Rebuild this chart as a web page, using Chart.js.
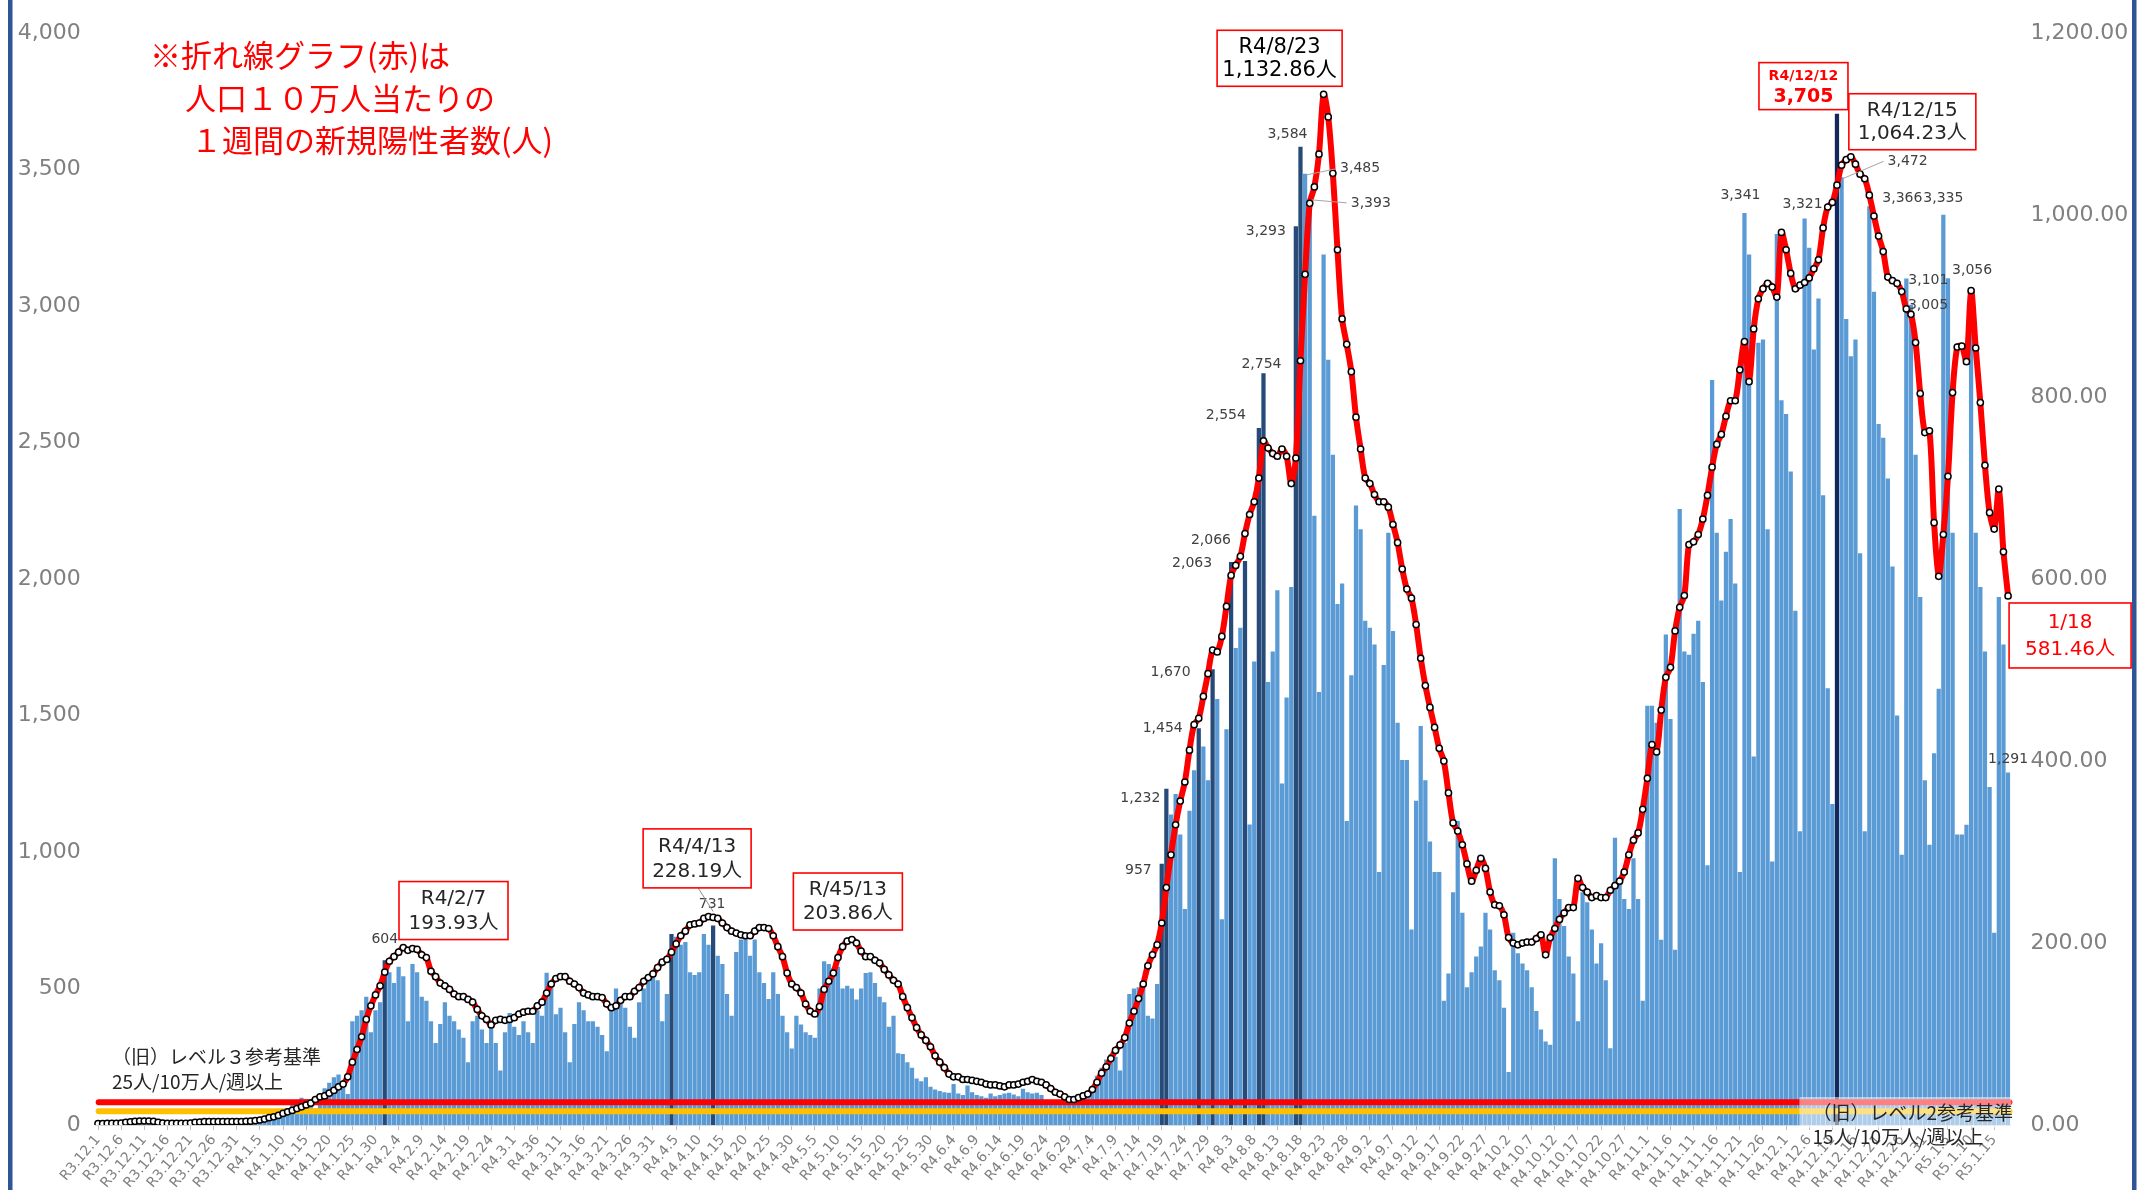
<!DOCTYPE html>
<html lang="ja">
<head>
<meta charset="utf-8">
<title>新規陽性者数の推移</title>
<script src="https://cdn.jsdelivr.net/npm/chart.js@4.4.1/dist/chart.umd.min.js"></script>
<style>
  html, body { margin: 0; padding: 0; background: #fff; }
  #wrap { width: 2138px; height: 1190px; }
</style>
</head>
<body>
<div id="wrap"><canvas id="casesChart" width="2138" height="1190"></canvas></div>
<script>
// 日別の新規陽性者数 (R3.12.1 〜 R5.1.18)
const dailyCases = [
    3, 5, 2, 4, 6, 3, 1, 8, 10, 6, 9, 7, 5, 2, 3, 4, 2, 5, 3, 2, 1, 4, 6, 5, 8, 7, 9, 3, 6, 8, 10,
    12, 8, 15, 18, 25, 30, 42, 55, 48, 40,
    60, 78, 90, 100, 95, 80, 60,
    110, 135, 155, 175, 185, 160, 114,
    380, 400, 420, 470, 340, 420, 450,
    604, 560, 520, 580, 545, 380, 590,
    560, 470, 455, 380, 300, 370, 450,
    400, 380, 350, 320, 230, 380, 400,
    350, 300, 360, 300, 200, 340, 410,
    360, 330, 380, 340, 300, 420, 400,
    558, 515, 406, 430, 340, 230, 370,
    450, 420, 380, 380, 360, 330, 270,
    420, 500, 460, 430, 360, 320, 450,
    500, 530, 550, 530, 380, 480, 700,
    690, 660, 670, 560, 550, 560, 700,
    660, 731, 620, 590, 480, 400, 634,
    680, 690, 620, 680, 560, 520, 462,
    560, 480, 400, 340, 280, 400, 368,
    340, 330, 320, 500, 600, 590, 576,
    580, 500, 510, 500, 460, 500, 557,
    560, 520, 470, 450, 360, 400, 263,
    260, 230, 210, 170, 160, 175, 140,
    130, 125, 120, 118, 150, 115, 110,
    145, 120, 110, 105, 100, 115, 105,
    110, 115, 118, 112, 105, 133, 120,
    115, 118, 110, 90, 85, 80, 88,
    85, 80, 90, 95, 120, 105, 140,
    180, 210, 240, 260, 250, 200, 300,
    480, 500, 505, 530, 400, 390, 517,
    957, 1232, 1138, 1213, 1064, 791, 1151,
    1300, 1454, 1387, 1263, 1670, 1561, 754,
    1450, 2063, 1748, 1822, 2066, 1101, 1698,
    2554, 2754, 1623, 1735, 1959, 1251, 1566,
    1971, 3293, 3584, 3485, 3393, 2232, 1586,
    3189, 2804, 2456, 1909, 1984, 1114, 1648,
    2270, 2183, 1847, 1822, 1760, 927, 1685,
    2170, 1810, 1474, 1337, 1337, 716, 1188,
    1462, 1263, 1039, 927, 927, 455, 555,
    853, 1114, 778, 505, 560, 617, 654,
    778, 716, 567, 530, 430, 194, 704,
    629, 592, 567, 505, 418, 350, 306,
    294, 977, 828, 729, 617, 555, 380,
    853, 816, 716, 592, 666, 530, 281,
    1052, 902, 828, 791, 977, 828, 455,
    1536, 1536, 1474, 679, 1797, 1487, 642,
    2257, 1735, 1723, 1800, 1847, 1623, 952,
    2729, 2170, 1922, 2100, 2220, 1984, 927,
    3341, 3189, 1350, 2866, 2878, 2183, 965,
    3264, 2655, 2605, 2394, 1884, 1076, 3321,
    3214, 2841, 3028, 2307, 1600, 1176, 3705,
    3472, 2953, 2816, 2878, 2095, 1076, 3366,
    3053, 2568, 2518, 2369, 2046, 1500, 990,
    3101, 3005, 2456, 1934, 1263, 1027, 1362,
    1598, 3335, 3102, 2170, 1064, 1064, 1100,
    3056, 2170, 1971, 1735, 1238, 704, 1934,
    1760, 1291
];

// 人口10万人当たり1週間の新規陽性者数 (右軸)
const weeklyPer100k = [
    1.5, 1.5, 1.8, 1.8, 1.8, 2.0,
    3.0, 3.5, 4.0, 4.4, 4.4, 4.4, 4.0,
    3.0, 2.2, 1.8, 1.8, 1.8, 1.8, 1.8, 2.2,
    3.0, 3.3, 3.6, 3.6, 3.6, 3.6, 3.6, 3.6, 3.6, 3.6, 3.8, 4.0, 4.2, 4.8, 5.5,
    6.5, 8, 9, 10.5, 12.7, 14.5, 16, 18, 20, 22, 24, 28, 31, 32, 35, 38, 42, 45, 53,
    69, 83, 97, 116, 131, 143, 153, 168, 180, 185, 190, 195, 192,
    193.93,
    193, 187, 184, 169, 163, 156, 153, 149, 144, 141, 141, 138, 135, 127, 120, 116, 110,
    115, 116, 115, 116, 118, 122, 124, 125, 125, 131, 135, 145, 155, 161, 163, 163,
    158, 155, 151, 145, 143, 141, 141, 140, 133, 129,
    131, 137, 141, 141, 147, 151, 158, 162, 166, 173,
    179, 182, 190, 199, 208, 213, 220, 221, 222, 227,
    229, 228.19, 227, 222, 217, 213, 211, 209, 208, 208,
    213, 217, 217, 216, 208, 196, 185, 167, 155, 151,
    145, 133, 125, 122, 130, 149, 158, 167, 184, 196,
    202, 203.86, 200, 191, 185, 185, 181, 178, 171, 165,
    159, 155, 141, 129, 118, 107, 99, 93, 86, 76,
    69, 63, 56, 53, 53, 50, 50, 49, 48, 47,
    45, 44, 44, 43, 42, 44, 44, 45, 47, 48,
    50, 48, 47, 44, 40, 36, 34, 31, 28, 28,
    30, 32, 34, 39, 47, 57, 64, 73, 82, 88,
    96, 112, 125, 139, 155, 175, 187, 198, 222, 261,
    297, 330, 356, 377, 412, 440, 447, 471, 496, 522,
    520, 537, 570, 604, 615, 625, 650, 671, 685, 711,
    752, 744, 738, 735, 743, 735, 705, 733, 840, 935,
    1013, 1031, 1067, 1132.86, 1108, 1046, 962, 886, 858, 828,
    778, 743, 711, 705, 693, 685, 685, 679, 660, 640,
    611, 589, 579, 550, 513, 483, 459, 437, 414, 400,
    365, 332, 323, 308, 287, 268, 280, 293, 282, 256,
    242, 241, 231, 206, 200, 198, 200, 201, 201, 205,
    209, 187, 206, 216, 226, 233, 239, 239, 271, 261,
    256, 250, 252, 250, 250, 258, 263, 268, 278, 297,
    313, 321, 347, 381, 418, 410, 456, 492, 503, 543,
    569, 582, 638, 641, 649, 666, 692, 723, 748, 759,
    779, 796, 796, 830, 861, 817, 875, 908, 919, 925,
    921, 910, 981, 962, 936, 919, 923, 926, 931, 941,
    951, 986, 1009, 1014, 1033, 1055, 1061, 1064.23, 1056, 1045,
    1040, 1022, 999, 977, 960, 932, 928, 925, 916, 897,
    891, 860, 804, 761, 763, 662, 603, 649, 713, 805,
    855, 856, 839, 917, 854, 794, 725, 673, 655, 699,
    630, 581.46
];

// x軸の日付ラベル (5日おき)
const tickLabels = [
    'R3.12.1', 'R3.12.6', 'R3.12.11', 'R3.12.16', 'R3.12.21', 'R3.12.26', 'R3.12.31',
    'R4.1.5', 'R4.1.10', 'R4.1.15', 'R4.1.20', 'R4.1.25', 'R4.1.30',
    'R4.2.4', 'R4.2.9', 'R4.2.14', 'R4.2.19', 'R4.2.24',
    'R4.3.1', 'R4.36', 'R4.3.11', 'R4.3.16', 'R4.3.21', 'R4.3.26', 'R4.3.31',
    'R4.4.5', 'R4.4.10', 'R4.4.15', 'R4.4.20', 'R4.4.25', 'R4.4.30',
    'R4.5.5', 'R4.5.10', 'R4.5.15', 'R4.5.20', 'R4.5.25', 'R4.5.30',
    'R4.6.4', 'R4.6.9', 'R4.6.14', 'R4.6.19', 'R4.6.24', 'R4.6.29',
    'R4.7.4', 'R4.7.9', 'R4.7.14', 'R4.7.19', 'R4.7.24', 'R4.7.29',
    'R4.8.3', 'R4.8.8', 'R4.8.13', 'R4.8.18', 'R4.8.23', 'R4.8.28',
    'R4.9.2', 'R4.9.7', 'R4.9.12', 'R4.9.17', 'R4.9.22', 'R4.9.27',
    'R4.10.2', 'R4.10.7', 'R4.10.12', 'R4.10.17', 'R4.10.22', 'R4.10.27',
    'R4.11.1', 'R4.11.6', 'R4.11.11', 'R4.11.16', 'R4.11.21', 'R4.11.26',
    'R4.12.1', 'R4.12.6', 'R4.12.11', 'R4.12.16', 'R4.12.21', 'R4.12.26', 'R4.12.31',
    'R5.1.5', 'R5.1.10', 'R5.1.15'
];

// 過去最多を更新した日 (濃い色の棒)
const recordDays = [62, 124, 133, 230, 231, 238, 241, 245, 248, 251, 252, 259, 260, 376];
// 数値ラベルを付ける日
const labeledDays = [62, 133, 230, 231, 238, 241, 245, 248, 251, 252, 259, 260, 261, 262,
    356, 369, 377, 383, 391, 392, 399, 405, 413];

// 旧レベル基準 (人/10万人/週)
const level3Line = 25;
const level2Line = 15;

const categories = dailyCases.map((_, i) => (i % 5 === 0 ? tickLabels[i / 5] : ''));

const fmtInt = v => v.toLocaleString('en-US');
const fmt2 = v => v.toLocaleString('en-US', { minimumFractionDigits: 2, maximumFractionDigits: 2 });

const NUM_FONT = '"DejaVu Sans", "Noto Sans CJK JP", sans-serif';
const JP_FONT = '"Noto Sans CJK JP", "DejaVu Sans", sans-serif';

// 数値ラベルの位置 [dx, dy, 揃え, 引出線]
const valueLabelPos = {
    62: [0, -21, 'center'], 133: [-1, -21, 'center'],
    230: [-10, 7, 'right'], 231: [-6, 10, 'right'], 238: [-16, 0, 'right'],
    241: [-22, 3, 'right'], 245: [-19, 1, 'right'], 248: [-14, -21, 'right'],
    251: [-13, -13, 'right'], 252: [-2, -9, 'center'], 259: [-10, 5, 'right'],
    260: [-13, -12, 'center'], 261: [35, -5, 'left', true], 262: [41, 4, 'left', true],
    356: [-4, -18, 'center'], 369: [-2, -14, 'center'], 377: [46, -16, 'left', true],
    383: [13, -8, 'left'], 391: [2, 2, 'left'], 392: [-3, 1, 'left'],
    399: [0, -16, 'center'], 405: [1, -21, 'center'], 413: [0, -13, 'center']
};

// 赤枠の注記
const noteBoxes = [
    { axis: 'rate', day: 68, title: 'R4/2/7', dx: 41, dy: -38, w: 109, h: 58 },
    { axis: 'rate', day: 133, title: 'R4/4/13', dx: -16, dy: -59, w: 108, h: 59, leader: true },
    { axis: 'rate', day: 163, title: 'R/45/13', dx: -4, dy: -38, w: 109, h: 57 },
    { axis: 'rate', day: 265, title: 'R4/8/23', dx: -44, dy: -36, w: 125, h: 56, bold: true },
    { axis: 'cases', day: 376, title: 'R4/12/12', dx: -33.5, dy: -27.6, w: 89, h: 47, red: true, small: true },
    { axis: 'rate', day: 379, title: 'R4/12/15', dx: 61.5, dy: -35, w: 127, h: 56 },
    { axis: 'rate', day: 413, title: '1/18', dx: 62, dy: 39.5, w: 122, h: 65, red: true }
];

const chartDecor = {
    id: 'chartDecor',
    beforeDraw(chart) {
        const ctx = chart.ctx;
        ctx.save();
        ctx.fillStyle = '#ffffff';
        ctx.fillRect(0, 0, chart.width, chart.height);
        ctx.restore();
    },
    beforeDatasetDraw(chart, args) {
        // 基準線は棒の上、折れ線の下
        if (args.index !== 1) return;
        const ctx = chart.ctx;
        const area = chart.chartArea;
        const yr = chart.scales.yRate;
        ctx.save();
        [[level3Line, '#ff0000'], [level2Line, '#ffc000']].forEach(([v, c]) => {
            const y = yr.getPixelForValue(v);
            ctx.strokeStyle = c;
            ctx.lineWidth = 6;
            ctx.lineCap = 'round';
            ctx.beginPath();
            ctx.moveTo(area.left + 3, y);
            ctx.lineTo(area.right - 1, y);
            ctx.stroke();
        });

        // 右下の半透明ラベル
        const boxLeft = area.right - 211;
        ctx.fillStyle = 'rgba(255,255,255,0.5)';
        ctx.fillRect(boxLeft, area.bottom - 28, area.right - boxLeft + 1, 31);
        ctx.fillStyle = '#262626';
        ctx.font = '19px ' + JP_FONT;
        ctx.textAlign = 'left';
        ctx.textBaseline = 'middle';
        ctx.fillText('（旧）レベル2参考基準', boxLeft + 13, area.bottom - 12);
        ctx.fillText('15人/10万人/週以上', boxLeft + 13, area.bottom + 12);
        ctx.restore();
    },
    afterDatasetsDraw(chart) {
        const ctx = chart.ctx;
        const xs = chart.scales.x;
        const yc = chart.scales.yCases;
        const yr = chart.scales.yRate;
        ctx.save();

        // 棒の数値ラベル
        ctx.font = '14px ' + NUM_FONT;
        ctx.fillStyle = '#404040';
        ctx.textBaseline = 'middle';
        labeledDays.forEach(d => {
            const pos = valueLabelPos[d];
            const x = xs.getPixelForValue(d);
            const y = yc.getPixelForValue(dailyCases[d]);
            const tx = x + pos[0];
            const ty = y + pos[1];
            if (pos[3]) {
                ctx.strokeStyle = '#a6a6a6';
                ctx.lineWidth = 1;
                ctx.beginPath();
                ctx.moveTo(x + 2, y + 1);
                ctx.lineTo(tx - 4, ty);
                ctx.stroke();
            }
            ctx.textAlign = pos[2];
            ctx.fillText(fmtInt(dailyCases[d]), tx, ty);
        });

        // 赤枠注記
        noteBoxes.forEach(b => {
            const x = xs.getPixelForValue(b.day);
            const value = b.axis === 'rate' ? weeklyPer100k[b.day] : dailyCases[b.day];
            const y = b.axis === 'rate' ? yr.getPixelForValue(value) : yc.getPixelForValue(value);
            const cx = x + b.dx;
            const cy = y + b.dy;
            if (b.leader) {
                ctx.strokeStyle = '#8c8c8c';
                ctx.lineWidth = 1;
                ctx.beginPath();
                ctx.moveTo(cx + 1, cy + b.h / 2);
                ctx.lineTo(x, yc.getPixelForValue(dailyCases[b.day]) - 14);
                ctx.stroke();
            }
            ctx.fillStyle = '#ffffff';
            ctx.fillRect(cx - b.w / 2, cy - b.h / 2, b.w, b.h);
            ctx.strokeStyle = '#ff0000';
            ctx.lineWidth = 1.6;
            ctx.strokeRect(cx - b.w / 2, cy - b.h / 2, b.w, b.h);
            ctx.textAlign = 'center';
            ctx.fillStyle = b.red ? '#ff0000' : (b.bold ? '#000000' : '#262626');
            const second = b.axis === 'rate' ? fmt2(value) + '人' : fmtInt(value);
            if (b.small) {
                ctx.font = 'bold 14px ' + NUM_FONT;
                ctx.fillText(b.title, cx, cy - 10);
                ctx.font = 'bold 19px ' + NUM_FONT;
                ctx.fillText(second, cx, cy + 11);
            } else {
                ctx.font = (b.bold ? '21px ' : '20px ') + NUM_FONT;
                ctx.fillText(b.title, cx, cy - b.h * 0.2);
                ctx.fillText(second, cx, cy + b.h * 0.22);
            }
        });

        // 左下の基準ラベル
        ctx.fillStyle = '#262626';
        ctx.font = '19px ' + JP_FONT;
        ctx.textAlign = 'left';
        ctx.fillText('（旧）レベル３参考基準', 112, 1057);
        ctx.fillText('25人/10万人/週以上', 112, 1082);

        // 折れ線の説明
        ctx.fillStyle = '#ff0000';
        ctx.font = '31px ' + JP_FONT;
        ctx.fillText('※折れ線グラフ(赤)は', 150, 55);
        ctx.fillText('人口１０万人当たりの', 185, 98);
        ctx.fillText('１週間の新規陽性者数(人)', 191, 140);
        ctx.restore();
    },
    afterDraw(chart) {
        const ctx = chart.ctx;
        ctx.save();
        ctx.fillStyle = '#2f5597';
        ctx.fillRect(8, 0, 4.5, chart.height);
        ctx.fillRect(2132, 0, 4.5, chart.height);
        ctx.restore();
    }
};

function barColor(i) {
    if (i === 376) return '#13285a';
    if (recordDays.includes(i)) return '#264b78';
    return '#5b9bd5';
}

const ctx = document.getElementById('casesChart');
new Chart(ctx, {
    type: 'bar',
    data: {
        labels: categories,
        datasets: [
            {
                type: 'bar',
                label: '新規陽性者数',
                data: dailyCases,
                yAxisID: 'yCases',
                order: 2,
                backgroundColor: c => barColor(c.dataIndex),
                borderWidth: 0,
                barPercentage: 1.0,
                categoryPercentage: 0.92
            },
            {
                type: 'line',
                label: '人口10万人当たり1週間の新規陽性者数',
                data: weeklyPer100k,
                yAxisID: 'yRate',
                order: 1,
                borderColor: '#ff0000',
                borderWidth: 6,
                tension: 0.3,
                pointRadius: 3.1,
                pointBackgroundColor: '#ffffff',
                pointBorderColor: '#000000',
                pointBorderWidth: 1.5
            }
        ]
    },
    options: {
        responsive: false,
        animation: false,
        devicePixelRatio: 1,
        layout: { padding: { top: 25, left: 0, right: 0, bottom: 0 } },
        plugins: {
            legend: { display: false },
            tooltip: { enabled: false }
        },
        scales: {
            x: {
                type: 'category',
                offset: true,
                grid: {
                    display: true,
                    offset: false,
                    drawOnChartArea: false,
                    drawTicks: true,
                    tickLength: 5,
                    color: c => (c.index % 5 === 0 ? '#bfbfbf' : 'rgba(0,0,0,0)')
                },
                border: { display: true, color: '#d9d9d9', width: 1 },
                ticks: {
                    autoSkip: false,
                    minRotation: 50,
                    maxRotation: 50,
                    padding: 2,
                    color: '#808080',
                    font: { family: NUM_FONT, size: 14 }
                },
                afterFit(scale) { scale.height = 65; }
            },
            yCases: {
                position: 'left',
                min: 0,
                max: 4000,
                grid: { display: false, drawTicks: false },
                border: { display: false },
                ticks: {
                    stepSize: 500,
                    padding: 15,
                    color: '#808080',
                    font: { family: NUM_FONT, size: 22 },
                    callback: v => fmtInt(v)
                },
                afterFit(scale) { scale.width = 95.7; }
            },
            yRate: {
                position: 'right',
                min: 0,
                max: 1200,
                grid: { display: false, drawTicks: false },
                border: { display: false },
                ticks: {
                    stepSize: 200,
                    padding: 20,
                    color: '#808080',
                    font: { family: NUM_FONT, size: 22 },
                    callback: v => fmt2(v)
                },
                afterFit(scale) { scale.width = 127.6; }
            }
        }
    },
    plugins: [chartDecor]
});
</script>
</body>
</html>
